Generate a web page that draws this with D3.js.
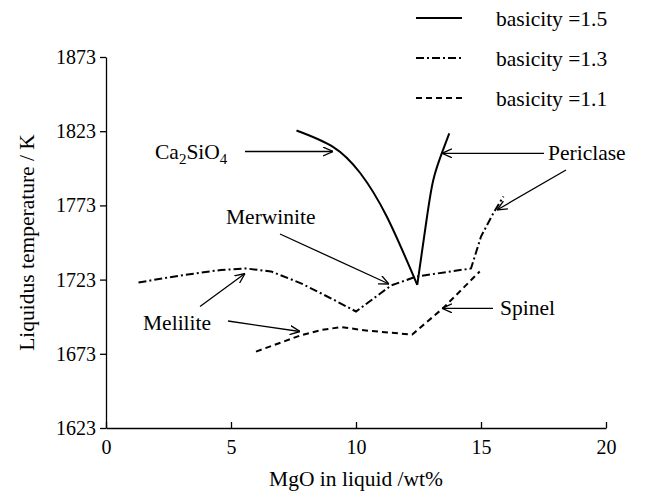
<!DOCTYPE html>
<html>
<head>
<meta charset="utf-8">
<script src="https://cdn.jsdelivr.net/npm/d3@7"></script>
<style>
  body { margin: 0; background: #fff; }
  svg text { font-family: "Liberation Serif", "Times New Roman", Times, "Nimbus Roman", "DejaVu Serif", "Noto Serif", serif; fill: #000; }
</style>
</head>
<body>
<svg id="chart" width="649" height="494"></svg>
<script>
// Liquidus temperature vs MgO content for three slag basicities
const basicity15Left = [
  [7.62, 1823.5], [9.08, 1812.5], [10.16, 1795], [11.23, 1765.5], [12.45, 1719.5]
];
const basicity15Right = [
  [12.45, 1719.5], [12.82, 1763], [13.09, 1790], [13.43, 1808], [13.73, 1821.5]
];
const basicity13 = [
  [1.3, 1721], [2.5, 1724.5], [3.5, 1727], [4.6, 1729.5], [5.6, 1730.5], [6.6, 1728.5],
  [7.8, 1720.5], [9.1, 1709.5], [10.0, 1701.5], [11.4, 1719], [12.4, 1725], [14.6, 1730.5],
  [15.0, 1752], [15.5, 1768], [15.9, 1779]
];
const basicity11 = [
  [6.0, 1674.5], [7.8, 1685.5], [8.6, 1689], [9.4, 1691], [10.5, 1688.5], [12.25, 1686],
  [13.5, 1704], [14.95, 1728.5]
];
const xTicks = [0, 5, 10, 15, 20];
const yTicks = [1623, 1673, 1723, 1773, 1823, 1873];
const legendLabels = ["basicity =1.5", "basicity =1.3", "basicity =1.1"];
const dashes = [null, "8,3,2,3", "6,4"];

const svg = d3.select("#chart");
const margin = { left: 106, right: 43, top: 57, bottom: 66 };
const W = 649, H = 494;
const x = d3.scaleLinear().domain([0, 20]).range([margin.left, W - margin.right]);
const y = d3.scaleLinear().domain([1623, 1873]).range([H - margin.bottom, margin.top]);

// axes
const xAxis = svg.append("g")
  .attr("transform", `translate(0,${y(1623)})`)
  .call(d3.axisBottom(x).tickValues(xTicks).tickFormat(d3.format("d"))
    .tickSizeInner(-6).tickSizeOuter(0).tickPadding(12));
const yAxis = svg.append("g")
  .attr("transform", `translate(${x(0)},0)`)
  .call(d3.axisLeft(y).tickValues(yTicks).tickFormat(d3.format("d"))
    .tickSizeInner(6).tickSizeOuter(0).tickPadding(4));
[xAxis, yAxis].forEach(a => {
  a.attr("font-family", null);
  a.selectAll("path, line").attr("stroke", "#000").attr("stroke-width", 1.3);
  a.selectAll("text").attr("font-size", 20);
});

// axis titles
svg.append("text").attr("x", x(10)).attr("y", 486).attr("text-anchor", "middle")
  .attr("font-size", 21.5).text("MgO in liquid /wt%");
svg.append("text").attr("transform", `translate(34,${(y(1623) + y(1873)) / 2}) rotate(-90)`)
  .attr("text-anchor", "middle").attr("font-size", 21.5).text("Liquidus temperature / K");

// curves
const smooth = d3.line().x(d => x(d[0])).y(d => y(d[1])).curve(d3.curveNatural);
const straight = d3.line().x(d => x(d[0])).y(d => y(d[1]));
const drawCurve = (data, gen, dash) => svg.append("path").attr("d", gen(data))
  .attr("fill", "none").attr("stroke", "#000").attr("stroke-width", 2)
  .attr("stroke-dasharray", dash);
drawCurve(basicity15Left, smooth, null);
drawCurve(basicity15Right, smooth, null);
drawCurve(basicity13, straight, dashes[1]);
drawCurve(basicity11, straight, dashes[2]);

// legend
legendLabels.forEach((lab, i) => {
  const ly = 18 + i * 40;
  svg.append("line").attr("x1", 416).attr("x2", 462).attr("y1", ly).attr("y2", ly)
    .attr("stroke", "#000").attr("stroke-width", 2)
    .attr("stroke-dasharray", dashes[i]);
  svg.append("text").attr("x", 496).attr("y", ly + 7.5).attr("font-size", 21.5).text(lab);
});

// annotation arrows
svg.append("defs").append("marker").attr("id", "arr")
  .attr("viewBox", "0 0 10 10").attr("refX", 10).attr("refY", 5)
  .attr("markerWidth", 10).attr("markerHeight", 10).attr("markerUnits", "userSpaceOnUse")
  .attr("orient", "auto")
  .append("path").attr("d", "M0,0.5 L10,5 L0,9.5").attr("fill", "none").attr("stroke", "#000").attr("stroke-width", 1.3);

const arrows = [
  [245, 151.5, 333, 151.5],
  [544, 153.3, 442, 153.3],
  [566, 170, 497, 210],
  [280, 234, 389, 284],
  [200, 306.5, 245, 273.5],
  [228, 321, 300, 331.5],
  [493, 308.3, 442, 308.3]
];
arrows.forEach(a => {
  svg.append("line").attr("x1", a[0]).attr("y1", a[1]).attr("x2", a[2]).attr("y2", a[3])
    .attr("stroke", "#000").attr("stroke-width", 1.3).attr("marker-end", "url(#arr)");
});

// annotation labels
const ca = svg.append("text").attr("x", 155).attr("y", 159).attr("font-size", 21.5);
ca.append("tspan").text("Ca");
ca.append("tspan").attr("font-size", 15).attr("dy", 5).text("2");
ca.append("tspan").attr("dy", -5).text("SiO");
ca.append("tspan").attr("font-size", 15).attr("dy", 5).text("4");
svg.append("text").attr("x", 548).attr("y", 160).attr("font-size", 21.5).text("Periclase");
svg.append("text").attr("x", 226).attr("y", 224).attr("font-size", 21.5).text("Merwinite");
svg.append("text").attr("x", 143).attr("y", 330).attr("font-size", 21.5).text("Melilite");
svg.append("text").attr("x", 500).attr("y", 315).attr("font-size", 21.5).text("Spinel");
</script>
</body>
</html>
